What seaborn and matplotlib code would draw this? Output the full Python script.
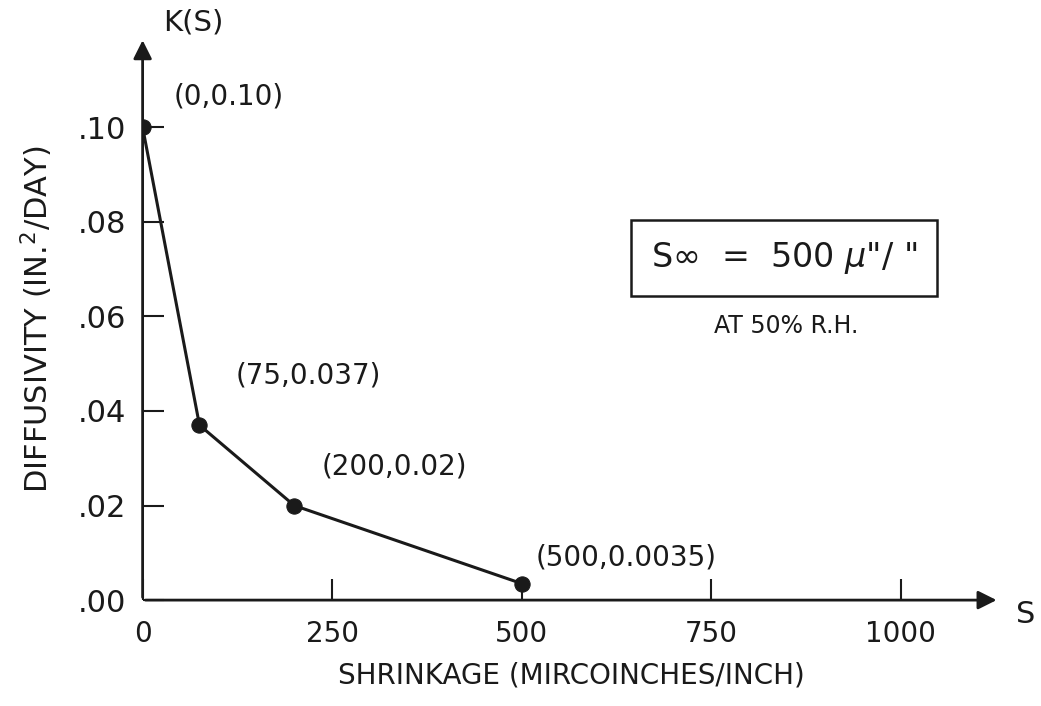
import matplotlib.pyplot as plt
import pandas as pd
import seaborn as sns

sns.set_style('white')
plt.rcParams['font.family'] = ['DejaVu Sans']

# data
shrinkage = [0, 75, 200, 500]
diffusivity = [0.10, 0.037, 0.02, 0.0035]
point_labels = ['(0,0.10)', '(75,0.037)', '(200,0.02)', '(500,0.0035)']
x_ticks = [0, 250, 500, 750, 1000]
y_ticks = [0.00, 0.02, 0.04, 0.06, 0.08, 0.10]
y_tick_labels = ['.00', '.02', '.04', '.06', '.08', '.10']

df = pd.DataFrame({'s': shrinkage, 'k': diffusivity})

fig = plt.figure(figsize=(10.41, 7.06), dpi=100)
ax = fig.add_axes([0.137, 0.15, 0.823, 0.797])

sns.lineplot(data=df, x='s', y='k', ax=ax, color='#1a1a1a', linewidth=2.2,
             marker='o', markersize=11, markeredgecolor='#1a1a1a', sort=False)

ax.set_xlim(0, 1130)
ax.set_ylim(0, 0.119)

# axes drawn as arrows, no frame
for side in ['top', 'right', 'bottom', 'left']:
    ax.spines[side].set_visible(False)
ax.annotate('', xy=(1.0, 0), xytext=(0, 0), xycoords='axes fraction',
            arrowprops=dict(arrowstyle='-|>', color='#1a1a1a', lw=2, mutation_scale=28))
ax.annotate('', xy=(0, 1.0), xytext=(0, 0), xycoords='axes fraction',
            arrowprops=dict(arrowstyle='-|>', color='#1a1a1a', lw=2, mutation_scale=28))

ax.set_xticks(x_ticks)
ax.set_xticklabels([str(t) for t in x_ticks])
ax.set_yticks(y_ticks)
ax.set_yticklabels(y_tick_labels)
ax.tick_params(axis='both', direction='in', length=15, width=1.5, color='#1a1a1a',
               labelsize=20, labelcolor='#1a1a1a', bottom=True, left=True)
ax.tick_params(axis='x', pad=14)
ax.tick_params(axis='y', pad=12, labelsize=22)

ax.set_xlabel('SHRINKAGE (MIRCOINCHES/INCH)', fontsize=20, color='#1a1a1a', labelpad=10)
ax.set_ylabel('DIFFUSIVITY (IN.$^{2}$/DAY)', fontsize=22, color='#1a1a1a', labelpad=16)

# point annotations
offsets = [(22, 12), (26, 26), (20, 18), (10, 9)]
for x, y, lab, off in zip(shrinkage, diffusivity, point_labels, offsets):
    ax.annotate(lab, xy=(x, y), xytext=off, textcoords='offset points',
                fontsize=20, color='#1a1a1a', ha='left', va='bottom')

fig.text(0.157, 0.968, 'K(S)', fontsize=21, color='#1a1a1a', ha='left', va='center')
fig.text(0.985, 0.13, 'S', fontsize=22, color='#1a1a1a', ha='center', va='center')

# boxed note
fig.text(0.753, 0.635, r'S$\infty$  =  500 $\mu$"/ "', fontsize=24, color='#1a1a1a',
         ha='center', va='center',
         bbox=dict(boxstyle='square,pad=0.6', fc='white', ec='#1a1a1a', lw=1.8))
fig.text(0.755, 0.538, 'AT 50% R.H.', fontsize=17, color='#1a1a1a', ha='center', va='center')

plt.savefig('out.png', dpi=100)
